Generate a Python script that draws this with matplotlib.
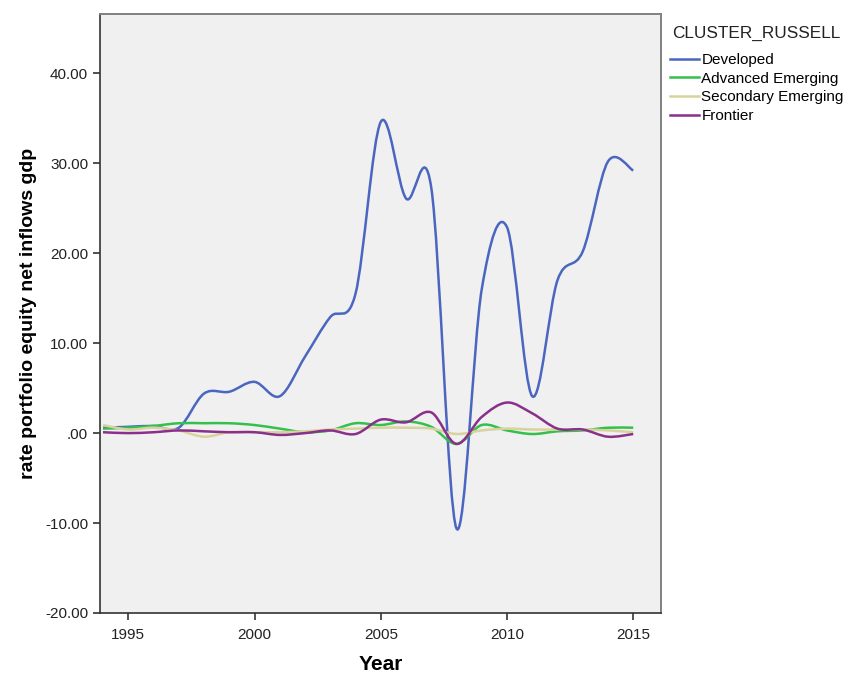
import numpy as np
import matplotlib.pyplot as plt
from matplotlib.path import Path
from matplotlib.patches import PathPatch
from matplotlib.lines import Line2D

plt.rcParams["font.family"] = ["Liberation Sans", "DejaVu Sans"]

years = np.arange(1994, 2016)

developed = [0.6, 0.7, 0.8, 0.6, 4.4, 4.6, 5.7, 4.1, 8.5, 12.9, 15.5,
             34.6, 26.1, 27.3, -10.6, 16.0, 22.9, 4.1, 17.0, 20.2, 30.2, 29.2]
adv_emerging = [0.5, 0.6, 0.8, 1.1, 1.1, 1.1, 0.9, 0.5, 0.1, 0.3, 1.1,
                0.9, 1.3, 0.7, -1.2, 0.9, 0.3, -0.1, 0.2, 0.3, 0.6, 0.6]
sec_emerging = [0.9, 0.4, 0.6, 0.3, -0.4, 0.1, 0.1, 0.1, 0.2, 0.4, 0.5,
                0.6, 0.6, 0.5, -0.1, 0.3, 0.5, 0.4, 0.4, 0.4, 0.3, 0.1]
frontier = [0.1, 0.0, 0.1, 0.3, 0.2, 0.1, 0.1, -0.2, 0.0, 0.3, -0.1,
            1.5, 1.2, 2.3, -1.2, 1.8, 3.4, 2.2, 0.5, 0.4, -0.4, -0.1]

series = [
    ("Developed", developed, "#4a66c0"),
    ("Advanced Emerging", adv_emerging, "#34c04c"),
    ("Secondary Emerging", sec_emerging, "#d8d39e"),
    ("Frontier", frontier, "#8a2f8b"),
]


def smooth_path(x, y):
    # Catmull-Rom curve through the points, written as cubic Bezier segments
    pts = np.column_stack([x, y]).astype(float)
    ext = np.vstack([pts[0], pts, pts[-1]])
    verts = [pts[0]]
    codes = [Path.MOVETO]
    for i in range(1, len(ext) - 2):
        p0, p1, p2, p3 = ext[i - 1], ext[i], ext[i + 1], ext[i + 2]
        verts += [p1 + (p2 - p0) / 6, p2 - (p3 - p1) / 6, p2]
        codes += [Path.CURVE4] * 3
    return Path(verts, codes)


fig = plt.figure(figsize=(8.53, 6.75), dpi=100)
ax = fig.add_axes([100 / 853, 62 / 675, 561 / 853, 599 / 675])
ax.set_facecolor("#f0f0f0")

handles = []
for name, vals, col in series:
    ax.add_patch(PathPatch(smooth_path(years, vals), facecolor="none",
                           edgecolor=col, lw=1.8, transform=ax.transData))
    handles.append(Line2D([], [], color=col, lw=1.8, label=name))

ax.set_xlim(1993.88, 2016.1)
ax.set_ylim(-20, 46.6)
ax.set_xticks([1995, 2000, 2005, 2010, 2015])
ax.set_yticks([-20, -10, 0, 10, 20, 30, 40])
ax.set_yticklabels(["-20.00", "-10.00", ".00", "10.00", "20.00", "30.00", "40.00"])
ax.tick_params(direction="out", length=5, width=1.2, color="#333333",
               labelsize=11, labelcolor="#222222")
ax.tick_params(axis="x", pad=6)

for side in ["left", "bottom"]:
    ax.spines[side].set_color("#333333")
    ax.spines[side].set_linewidth(1.2)
for side in ["top", "right"]:
    ax.spines[side].set_color("#808080")
    ax.spines[side].set_linewidth(1.4)

ax.set_xlabel("Year", fontsize=15, fontweight="bold", labelpad=9)
ax.set_ylabel("rate portfolio equity net inflows gdp", fontsize=14,
              fontweight="bold", labelpad=6)

# legend title sits apart from the entries
fig.text(672 / 853, 1 - 33 / 675, "CLUSTER_RUSSELL", fontsize=12.4,
         va="center", ha="left", color="#222222")
fig.legend(handles=handles, loc="upper left",
           bbox_to_anchor=(670 / 853, 1 - 53 / 675), frameon=False,
           fontsize=11, handlelength=1.9, handletextpad=0.15,
           labelspacing=0.31, borderaxespad=0, borderpad=0)

fig.savefig("out.png", dpi=100, facecolor="white")
